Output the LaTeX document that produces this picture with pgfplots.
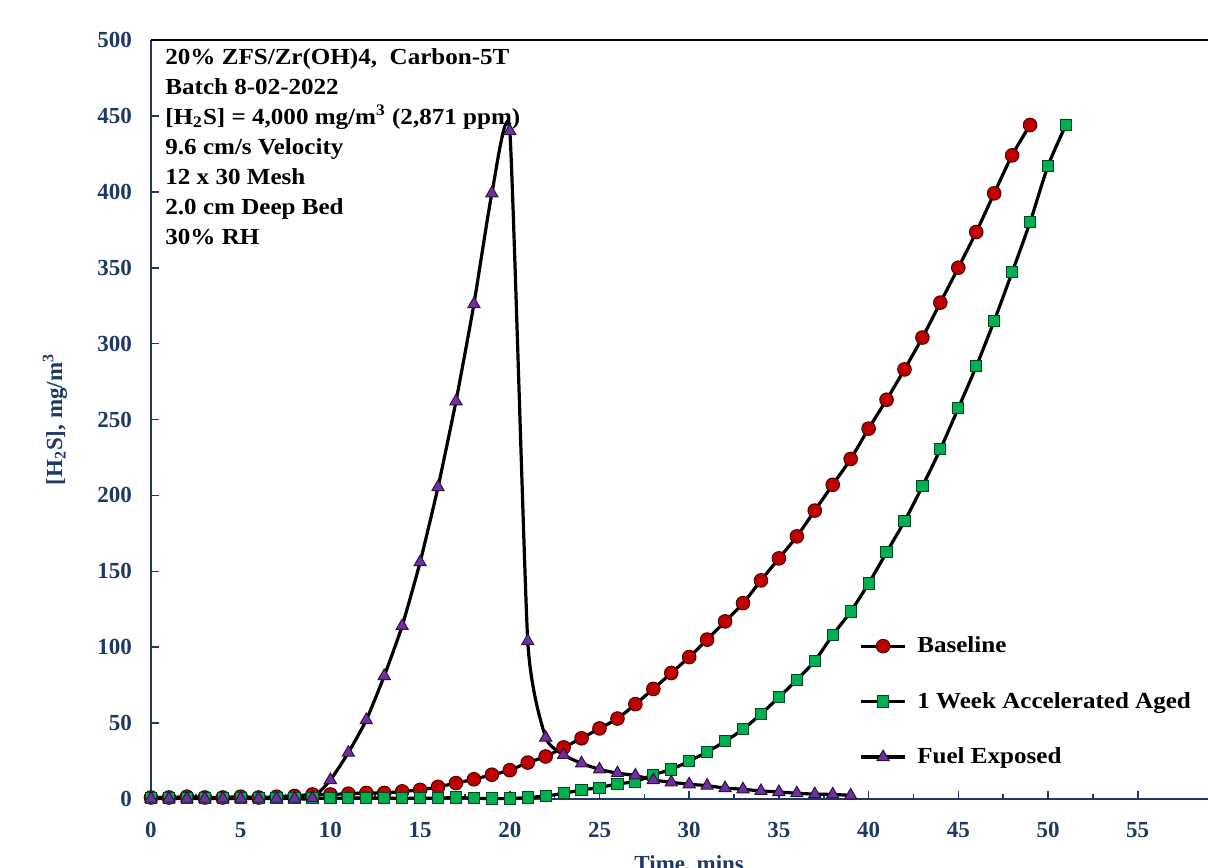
\documentclass[border=0pt]{standalone}
\usepackage{fontspec}
\setmainfont{Liberation Serif}
\newfontfamily\sfont{Liberation Serif}[FakeStretch=1.09]
\usepackage{pgfplots}
\pgfplotsset{compat=1.18}
\definecolor{navy}{RGB}{31,56,100}
\definecolor{bred}{RGB}{192,0,0}
\definecolor{bgreen}{RGB}{0,176,80}
\definecolor{bpurple}{RGB}{112,48,160}
\begin{document}
\begin{tikzpicture}
\begin{axis}[
  at={(0,0)}, anchor=south west,
  scale only axis, width=538.2pt, height=379.5pt,
  xmin=0, xmax=60, ymin=0, ymax=500,
  clip=false,
  axis x line*=bottom, axis y line*=left,
  x axis line style={navy, line width=1pt, -},
  y axis line style={navy, line width=1pt, -},
  xtick={0,5,...,55}, minor x tick num=1,
  ytick={0,50,...,500},
  tick align=inside,
  major tick length=4pt, minor tick length=2.5pt,
  tick style={navy, line width=0.8pt},
  /pgf/number format/assume math mode=true,
  tick label style={font=\fontsize{11.5}{13}\selectfont\bfseries, text=navy},
  yticklabel style={xshift=-6pt},
  xticklabel style={yshift=-8pt},
  xlabel={Time, mins},
  xlabel style={at={(axis description cs:0.5,0)}, anchor=center, yshift=-33pt, font=\fontsize{11.5}{13}\selectfont\bfseries, text=navy},
  ylabel={{[}H\textsubscript{2}S], mg/m\textsuperscript{3}},
  ylabel style={at={(axis description cs:-0.0892,0.5)}, anchor=center, font=\fontsize{11.5}{13}\selectfont\bfseries, text=navy},
  legend style={at={(rel axis cs:0.6582,0.2197)}, anchor=north west, draw=none, fill=none,
    font=\sfont\fontsize{11.5}{13}\selectfont\bfseries, row sep=14.25pt, inner sep=0pt},
  legend cell align=left,
  legend image code/.code={\draw[mark repeat=2,mark phase=2,#1] plot coordinates {(0cm,0cm) (0.38cm,0cm) (0.76cm,0cm)}; \path (0.883cm,0cm);},
]
\addplot[black, line width=1.6pt, smooth, mark=*, mark size=3.4pt,
  mark options={fill=bred, draw=black!60!bred, line width=0.5pt}] coordinates {
(0,1) (1,1) (2,1.5) (3,1) (4,1) (5,1.5) (6,1) (7,1.5) (8,2) (9,3) (10,3) (11,3.5) (12,4) (13,4) (14,5) (15,6) (16,8) (17,10.5) (18,13) (19,16) (20,19) (21,24) (22,28) (23,34) (24,40) (25,46.5) (26,53) (27,62.5) (28,72.5) (29,83) (30,93.5) (31,105) (32,117) (33,129) (34,144) (35,158.5) (36,173) (37,190) (38,207) (39,224) (40,244) (41,263) (42,283) (43,304) (44,327) (45,350) (46,373.5) (47,399) (48,424) (49,444)};
\addlegendentry{Baseline}
\addplot[black, line width=1.6pt, smooth, mark=square*, mark size=2.8pt,
  mark options={fill=bgreen, draw=black!60!bgreen, line width=0.5pt}] coordinates {
(0,0.5) (1,0.5) (2,0.5) (3,0.5) (4,0.5) (5,0.5) (6,0.5) (7,0.5) (8,0.5) (9,0.5) (10,0.5) (11,0.5) (12,0.8) (13,0.5) (14,0.5) (15,0.5) (16,0.5) (17,1) (18,0.5) (19,0.3) (20,0.3) (21,1) (22,2) (23,3.7) (24,6) (25,7.5) (26,10) (27,11.5) (28,16) (29,19.5) (30,25) (31,31) (32,38) (33,46) (34,56) (35,67) (36,78.5) (37,91) (38,108) (39,123.5) (40,142) (41,162.5) (42,183) (43,206) (44,230.5) (45,257.5) (46,285) (47,315) (48,347) (49,380) (50,417) (51,444)};
\addlegendentry{1 Week Accelerated Aged}
\addplot[black, line width=1.6pt, smooth, tension=0.3, mark=triangle*, mark size=3.5pt,
  mark options={fill=bpurple, draw=black!60!bpurple, line width=0.5pt}] coordinates {
(0,0.3) (1,0.3) (2,0.3) (3,0.3) (4,0.3) (5,0.3) (6,0.3) (7,0.3) (8,0.3) (9,0.5) (10,12.5) (11,30.5) (12,52) (13,81) (14,114) (15,156) (16,205.5) (17,262) (18,326) (19,399) (20,440) (21,104) (22,40.5) (23,29) (24,23.5) (25,19.5) (26,17) (27,15.5) (28,12.5) (29,11) (30,9.7) (31,8.8) (32,7.2) (33,6.4) (34,5.3) (35,4.6) (36,3.8) (37,3.2) (38,3) (39,2.4)};
\addlegendentry{Fuel Exposed}
\draw[black, line width=1.2pt] (rel axis cs:0,1) -- (rel axis cs:1,1);
\node[anchor=north west, align=left, inner sep=0pt, font=\sfont\fontsize{11.5}{15}\selectfont\bfseries]
  at ([xshift=7pt,yshift=-4pt]rel axis cs:0,1)
  {20\% ZFS/Zr(OH)4,~ Carbon-5T\\
   Batch 8-02-2022\\
   {[}H\textsubscript{2}S] = 4,000 mg/m\textsuperscript{3} (2,871 ppm)\\
   9.6 cm/s Velocity\\
   12 x 30 Mesh\\
   2.0 cm Deep Bed\\
   30\% RH};
\end{axis}
\pgfresetboundingbox
\useasboundingbox (-75.5pt,-34pt) rectangle (528.5pt,399.5pt);
\end{tikzpicture}
\end{document}
